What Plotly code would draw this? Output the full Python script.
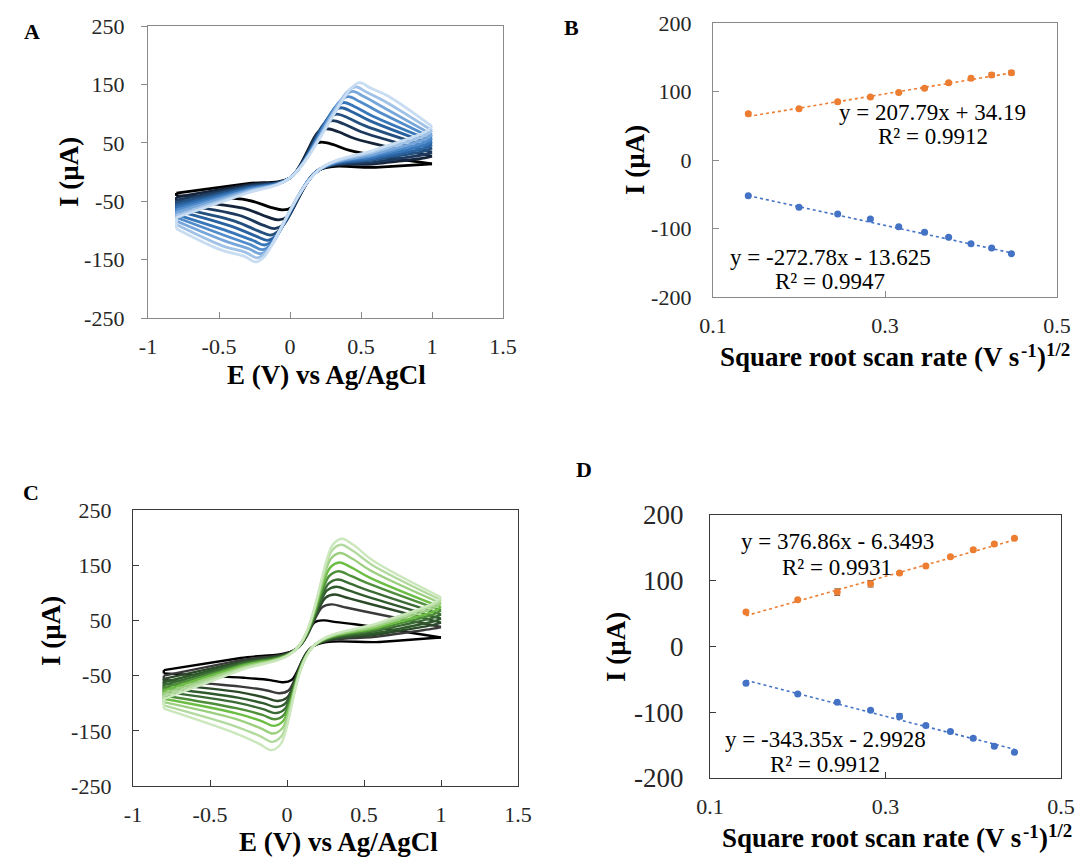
import plotly.graph_objects as go

W, H = 1080, 865
SERIF = "Liberation Serif, Times New Roman, serif"

# ---------------- Panel A: cyclic voltammograms (blue set, slow -> fast scan) ----------------
colors_A = ["#000000", "#15243a", "#1d3a5e", "#23507f", "#2a62a0", "#3776b8", "#528ccb",
            "#76a6da", "#a0c2e7", "#c8dcf2"]
epa_A = [0.22, 0.26, 0.30, 0.33, 0.36, 0.38, 0.41, 0.44, 0.46, 0.49]
ipa_A = [51, 74, 88, 99, 110, 119, 129, 138, 146, 153]
ftail_A = [37, 57, 69, 79, 88, 96, 105, 113, 122, 130]
vtx_A = [14, 27, 34, 41, 47, 53, 58.5, 64, 71, 78]
rs_A = [13, 24, 30, 36, 41, 46, 51, 56, 62, 68]
r06_A = [8, 14, 17, 21, 23, 26, 29, 31, 35, 38]
fs_A = [-36, -43, -48, -53, -57, -61, -65, -69, -74, -78]
f03_A = [-20, -22, -24, -26, -28, -29, -31, -32, -34, -36]
epc_A = [-0.05, -0.08, -0.11, -0.14, -0.16, -0.18, -0.195, -0.21, -0.23, -0.24]
ipc_A = [-65, -82, -97, -108, -117, -125, -133, -140, -147, -154]
rtail_A = [-48, -62, -74, -84, -93, -102, -110, -118, -126, -133]
re_A = [-41, -48, -55, -61, -66, -73, -78, -84, -90, -97]
cross_f_A = (0.0, -10)
cross_r_A = (0.2, 3)

# ---------------- Panel C: cyclic voltammograms (green set, slow -> fast scan) ----------------
colors_C = ["#000000", "#3a3a3a", "#2c4a2a", "#2f5a2c", "#3b6b34", "#4e8e3a", "#6cbd44",
            "#9ccf80", "#b3da9e", "#cbe7bc"]
epa_C = [0.24, 0.29, 0.31, 0.32, 0.33, 0.335, 0.34, 0.345, 0.35, 0.355]
ipa_C = [50, 79, 97, 111, 124, 139, 155, 172, 187, 198]
ftail_C = [43, 67, 82, 93, 104, 116, 127, 140, 151, 159]
vtx_C = [19, 38, 46, 53, 61, 68, 74, 81, 87, 92]
rs_C = [18, 35, 42, 48, 55, 61, 66, 72, 77, 81]
r06_C = [11, 21, 25, 28, 32, 35, 38, 41, 44, 46]
fs_C = [-40, -50, -56, -62, -67, -72, -77, -82, -87, -92]
f03_C = [-18, -22, -25, -27, -29, -31, -33, -36, -38, -40]
epc_C = [-0.03, -0.05, -0.06, -0.07, -0.075, -0.08, -0.085, -0.09, -0.095, -0.10]
ipc_C = [-62, -82, -96, -107, -118, -129, -141, -155, -170, -185]
rtail_C = [-54, -70, -80, -90, -99, -109, -118, -128, -141, -153]
re_C = [-46, -58, -65, -72, -79, -86, -92, -98, -104, -110]
cross_f_C = (0.06, -2)
cross_r_C = (0.17, 3)

# ---------------- Panels B and D: peak current vs square root of scan rate ----------------
sqrt_v = [0.141, 0.200, 0.245, 0.283, 0.316, 0.346, 0.374, 0.400, 0.424, 0.447]
ipa_B = [67.6, 74.9, 85.0, 91.8, 98.6, 104.8, 112.6, 119.3, 124.2, 127.5]
ipc_B = [-52.2, -69.1, -78.7, -86.0, -97.6, -105.3, -112.6, -122.2, -128.5, -136.7]
err_ipa_B = [2, 1.5, 1.5, 1.5, 1.5, 1.5, 2, 2, 3, 3]
err_ipc_B = [1, 1, 1.5, 2, 1.5, 1.5, 1.5, 1.5, 1.5, 1.5]
fit_B_ox = (207.79, 34.19)
fit_B_red = (-272.78, -13.625)
ipa_D = [52.3, 71.1, 82.7, 95.4, 111.7, 122.3, 136.5, 147.2, 155.8, 164.5]
ipc_D = [-55.8, -72.1, -84.8, -97.0, -106.1, -120.3, -129.4, -139.6, -151.8, -160.9]
err_ipa_D = [1.5, 1.5, 5, 5, 2, 2, 2, 2, 2, 2]
err_ipc_D = [1.5, 1.5, 1.5, 1.5, 4, 2, 2, 2, 2, 2]
fit_D_ox = (376.86, -6.3493)
fit_D_red = (-343.35, -2.9928)
r2_B = ("0.9912", "0.9947")
r2_D = ("0.9931", "0.9912")

# axis ticks
cv_xticks = [-1, -0.5, 0, 0.5, 1, 1.5]
cv_xlabels = ["-1", "-0.5", "0", "0.5", "1", "1.5"]
cv_yticks = [-250, -150, -50, 50, 150, 250]
cv_ylabels = ["-250", "-150", "-50", "50", "150", "250"]
rt_xticks = [0.1, 0.3, 0.5]
rt_xlabels = ["0.1", "0.3", "0.5"]
rt_yticks = [-200, -100, 0, 100, 200]
rt_ylabels = ["-200", "-100", "0", "100", "200"]

ORANGE = "#ED7D31"
BLUE = "#4472C4"


def px(x, y):
    return x / W, 1 - y / H


def cv_branches(P, k):
    """Anchor points of the anodic (forward) and cathodic (reverse) sweep of curve k."""
    xf, yf = P["cross_f"]
    xr, yr = P["cross_r"]
    epa, ipa = P["epa"][k], P["ipa"][k]
    epc, ipc = P["epc"][k], P["ipc"][k]
    da = 0.06 * (ipa - yf)
    dc = 0.06 * (yr - ipc)
    fwd_E = [-0.8, -0.3, xf, epa - 0.06, epa, epa + 0.08, epa + 0.2, 1.0]
    fwd_I = [P["fs"][k], P["f03"][k], yf, ipa - da, ipa, ipa - da, P["ftail"][k], P["vtx"][k]]
    rev_E = [1.0, 0.95, 0.6, xr, epc + 0.06, epc, epc - 0.08, epc - 0.25, -0.8]
    rev_I = [P["vtx"][k], P["rs"][k], P["r06"][k], yr, ipc + dc, ipc, ipc + dc,
             P["rtail"][k], P["re"][k]]
    return fwd_E, fwd_I, rev_E, rev_I


panel_A = dict(epa=epa_A, ipa=ipa_A, ftail=ftail_A, vtx=vtx_A, rs=rs_A, r06=r06_A, fs=fs_A,
               f03=f03_A, epc=epc_A, ipc=ipc_A, rtail=rtail_A, re=re_A,
               cross_f=cross_f_A, cross_r=cross_r_A)
panel_C = dict(epa=epa_C, ipa=ipa_C, ftail=ftail_C, vtx=vtx_C, rs=rs_C, r06=r06_C, fs=fs_C,
               f03=f03_C, epc=epc_C, ipc=ipc_C, rtail=rtail_C, re=re_C,
               cross_f=cross_f_C, cross_r=cross_r_C)

fig = go.Figure()

for P, colors, xa, ya, lw in [(panel_A, colors_A, "x", "y", 2.8),
                              (panel_C, colors_C, "x3", "y3", 2.4)]:
    for k, c in enumerate(colors):
        fE, fI, rE, rI = cv_branches(P, k)
        for E, I in ((fE, fI), (rE, rI)):
            fig.add_trace(go.Scatter(x=E, y=I, mode="lines", xaxis=xa, yaxis=ya,
                                     line=dict(color=c, width=lw, shape="spline", smoothing=1.0),
                                     hoverinfo="skip"))
        # vertical step at the negative switching potential
        fig.add_trace(go.Scatter(x=[-0.8, -0.8], y=[P["re"][k], P["fs"][k]], mode="lines",
                                 xaxis=xa, yaxis=ya, line=dict(color=c, width=lw),
                                 hoverinfo="skip"))


def add_rate_panel(xa, ya, ipa, ipc, ea, ec, fit_ox, fit_red):
    x0, x1 = sqrt_v[0], sqrt_v[-1]
    for fit, col in ((fit_ox, ORANGE), (fit_red, BLUE)):
        m, b = fit
        fig.add_trace(go.Scatter(x=[x0, x1], y=[m * x0 + b, m * x1 + b], mode="lines",
                                 xaxis=xa, yaxis=ya,
                                 line=dict(color=col, width=1.6, dash="dot"), hoverinfo="skip"))
    for vals, err, col in ((ipa, ea, ORANGE), (ipc, ec, BLUE)):
        fig.add_trace(go.Scatter(x=sqrt_v, y=vals, mode="markers", xaxis=xa, yaxis=ya,
                                 marker=dict(color=col, size=7),
                                 error_y=dict(type="data", array=err,
                                              color="#7a5a40" if col == ORANGE else "#3c5a8a",
                                              thickness=1, width=3),
                                 hoverinfo="skip"))


add_rate_panel("x2", "y2", ipa_B, ipc_B, err_ipa_B, err_ipc_B, fit_B_ox, fit_B_red)
add_rate_panel("x4", "y4", ipa_D, ipc_D, err_ipa_D, err_ipc_D, fit_D_ox, fit_D_red)


def axis(dom, rng, tv, tt, ticks, anchor, lc, fsize, standoff):
    return dict(domain=dom, range=rng, tickmode="array", tickvals=tv, ticktext=tt,
                ticks=ticks, ticklen=6, tickwidth=1, tickcolor=lc, showline=True,
                mirror=True, linecolor=lc, linewidth=1.3, showgrid=False, zeroline=False,
                anchor=anchor, fixedrange=True, automargin=False,
                ticklabelstandoff=standoff,
                tickfont=dict(family=SERIF, size=fsize, color="#262626"))


gA, gC = "#8a8a8a", "#3a3a3a"
xA = axis([148 / W, 503 / W], [-1, 1.5], cv_xticks, cv_xlabels, "inside", "y", gA, 22, 8)
yA = axis([1 - 318 / H, 1 - 26 / H], [-250, 250], cv_yticks, cv_ylabels, "outside", "x", gA, 22, 12)
xB = axis([713 / W, 1057 / W], [0.1, 0.5], rt_xticks, rt_xlabels, "inside", "y2", gA, 22, 8)
yB = axis([1 - 297 / H, 1 - 23 / H], [-200, 200], rt_yticks, rt_ylabels, "inside", "x2", gA, 22, 16)
xC = axis([133 / W, 518 / W], [-1, 1.5], cv_xticks, cv_xlabels, "inside", "y3", gC, 22, 8)
yC = axis([1 - 786 / H, 1 - 510 / H], [-250, 250], cv_yticks, cv_ylabels, "inside", "x3", gC, 22, 16)
xD = axis([710 / W, 1061 / W], [0.1, 0.5], rt_xticks, rt_xlabels, "inside", "y4", gC, 22, 8)
yD = axis([1 - 778 / H, 1 - 515 / H], [-200, 200], rt_yticks, rt_ylabels, "inside", "x4", gC, 27, 20)

fig.update_layout(width=W, height=H, margin=dict(l=0, r=0, t=0, b=0, autoexpand=False),
                  font=dict(family=SERIF, size=22, color="#262626"),
                  paper_bgcolor="white", plot_bgcolor="white", showlegend=False,
                  xaxis=xA, yaxis=yA, xaxis2=xB, yaxis2=yB,
                  xaxis3=xC, yaxis3=yC, xaxis4=xD, yaxis4=yD)

ann = []


def text(x, y, s, size, bold=False, angle=0, xanchor="center"):
    xp, yp = px(x, y)
    ann.append(dict(x=xp, y=yp, xref="paper", yref="paper", text=s,
                    showarrow=False, textangle=angle, xanchor=xanchor, yanchor="middle",
                    font=dict(family=SERIF, size=size, color="#000000",
                              weight="bold" if bold else "normal")))


# advance widths (em) of the bold serif glyphs used in the scan-rate title
EM_BOLD = {"S": .556, "q": .556, "u": .556, "a": .5, "r": .444, "e": .444, " ": .25,
           "o": .5, "t": .333, "s": .389, "c": .444, "n": .556, "(": .333, "V": .722,
           ")": .333, "-": .333, "1": .5, "/": .278, "2": .5}


def scan_rate_title(cx, cy, size):
    """Bold title with raised exponents, laid out as consecutive text runs."""
    sup = 0.7 * size
    runs = [("Square root scan rate (V s", size, 0), ("-1", sup, 7), (")", size, 0),
            ("1/2", sup, 8)]
    total = sum(sum(EM_BOLD[ch] for ch in t) * sz for t, sz, _ in runs)
    x = cx - total / 2
    for t, sz, lift in runs:
        text(x, cy - lift, t, sz, bold=True, xanchor="left")
        x += sum(EM_BOLD[ch] for ch in t) * sz


# panel letters
text(32, 32, "A", 22, bold=True)
text(571, 28, "B", 22, bold=True)
text(31, 492, "C", 22, bold=True)
text(584, 469, "D", 22, bold=True)

# axis titles
ytitle = "I (\u00b5A)"
xcv = "E (V) vs Ag/AgCl"
text(69, 172, ytitle, 27, bold=True, angle=-90)
text(326, 375, xcv, 27, bold=True)
text(635, 160, ytitle, 27, bold=True, angle=-90)
scan_rate_title(893, 357, 27)
text(51, 631, ytitle, 27, bold=True, angle=-90)
text(338, 842, xcv, 27, bold=True)
text(616, 647, ytitle, 27, bold=True, angle=-90)
scan_rate_title(895, 838, 27)


def eq(fit):
    m, b = fit
    sign = "+" if b >= 0 else "-"
    return f"y = {m:g}x {sign} {abs(b):g}"


# regression labels
text(932, 113, eq(fit_B_ox), 23)
text(933, 137, f"R\u00b2 = {r2_B[0]}", 23)
text(830, 258, eq(fit_B_red), 23)
text(830, 282, f"R\u00b2 = {r2_B[1]}", 23)
text(837, 541, eq(fit_D_ox), 23)
text(837, 567, f"R\u00b2 = {r2_D[0]}", 23)
text(825, 739, eq(fit_D_red), 23)
text(825, 764, f"R\u00b2 = {r2_D[1]}", 23)

fig.update_layout(annotations=ann)
fig.write_html("out.html")
